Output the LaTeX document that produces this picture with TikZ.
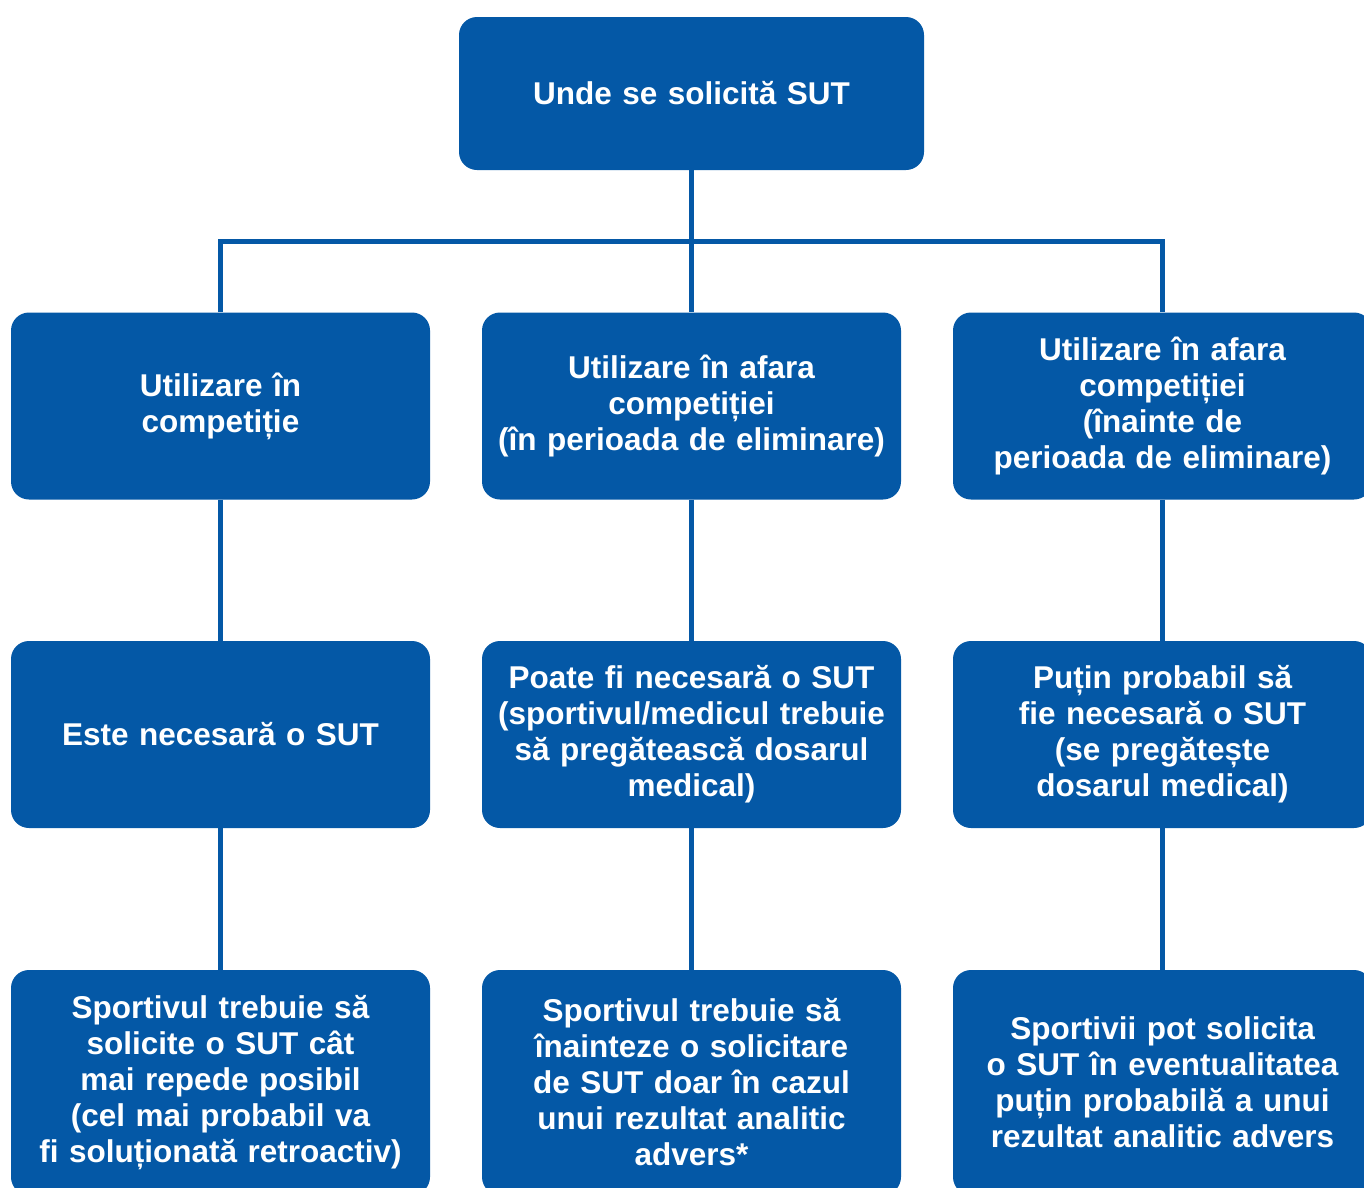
\documentclass[tikz,border=0pt]{standalone}
\usepackage{fontspec}
\setmainfont{Liberation Sans}
\definecolor{boxblue}{RGB}{4,88,166}
\begin{document}
\begin{tikzpicture}[x=1pt,y=-1pt,
  box/.style={rectangle, rounded corners=18pt, fill=boxblue, text=white,
    minimum width=419pt, minimum height=187pt, text width=410pt, align=center,
    inner sep=0pt, font=\bfseries\fontsize{31.5}{36}\selectfont},
  conn/.style={draw=boxblue, line width=5pt}]
\useasboundingbox (0,0) rectangle (1364,1187);
\clip (0,0) rectangle (1364,1187);
\node[box, minimum width=465pt, minimum height=153pt] (top) at (691.5,93.5) {Unde se solicită SUT};
\node[box] (l1) at (220.5,406) {Utilizare în\\competiție};
\node[box] (m1) at (691.5,406) {Utilizare în afara\\competiției\\(în perioada de eliminare)};
\node[box] (r1) at (1162.5,406) {Utilizare în afara\\competiției\\(înainte de\\perioada de eliminare)};
\node[box] (l2) at (220.5,734.5) {Este necesară o SUT};
\node[box] (m2) at (691.5,734.5) {Poate fi necesară o SUT\\(sportivul/medicul trebuie\\să pregătească dosarul\\medical)};
\node[box] (r2) at (1162.5,734.5) {Puțin probabil să\\fie necesară o SUT\\(se pregătește\\dosarul medical)};
\node[box, minimum height=225pt] (l3) at (220.5,1082.5) {Sportivul trebuie să\\solicite o SUT cât\\mai repede posibil\\(cel mai probabil va\\fi soluționată retroactiv)};
\node[box, minimum height=225pt] (m3) at (691.5,1082.5) {Sportivul trebuie să\\înainteze o solicitare\\de SUT doar în cazul\\unui rezultat analitic\\advers*};
\node[box, minimum height=225pt] (r3) at (1162.5,1082.5) {Sportivii pot solicita\\o SUT în eventualitatea\\puțin probabilă a unui\\rezultat analitic advers};
\coordinate (barY) at (0,241);
\draw[conn] (top.south) -- (m1.north);
\draw[conn] (l1.north) -- (l1.north |- barY) -- (r1.north |- barY) -- (r1.north);
\draw[conn] (l1) -- (l2); \draw[conn] (l2) -- (l3);
\draw[conn] (m1) -- (m2); \draw[conn] (m2) -- (m3);
\draw[conn] (r1) -- (r2); \draw[conn] (r2) -- (r3);
\end{tikzpicture}
\end{document}
